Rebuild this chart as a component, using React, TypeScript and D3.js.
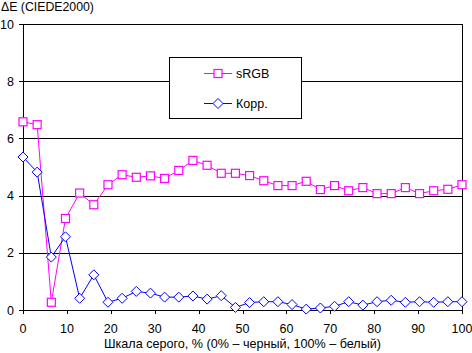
import React from 'react'
import * as d3 from 'd3'

// grey level, % (32 steps from black to white)
const grayLevels: number[] = d3.range(32).map(i => (i * 100) / 31)

const srgbValues: number[] = [
  6.58, 6.48, 0.27, 3.2, 4.09, 3.68, 4.38, 4.73, 4.64, 4.69, 4.6, 4.88, 5.23, 5.06, 4.78, 4.78,
  4.7, 4.52, 4.35, 4.35, 4.5, 4.21, 4.35, 4.17, 4.28, 4.07, 4.07, 4.28, 4.07, 4.17, 4.22, 4.38,
]

const korrValues: number[] = [
  5.35, 4.82, 1.85, 2.56, 0.41, 1.23, 0.27, 0.41, 0.65, 0.59, 0.45, 0.45, 0.49, 0.38, 0.5, 0.09,
  0.26, 0.29, 0.29, 0.19, 0.03, 0.07, 0.13, 0.29, 0.17, 0.29, 0.34, 0.27, 0.29, 0.27, 0.29, 0.29,
]

const xTicks: number[] = [0, 10, 20, 30, 40, 50, 60, 70, 80, 90, 100]
const yTicks: number[] = [0, 2, 4, 6, 8, 10]

const seriesNames = ['sRGB', 'Корр.']
const seriesColors = ['#ff00ff', '#0000ff']

const W = 472
const H = 353
const margin = { top: 24, right: 10, bottom: 43, left: 23 }
const font = '"Liberation Sans", Arial, sans-serif'

const App = () => {
  const x = d3.scaleLinear().domain([0, 100]).range([margin.left, W - margin.right])
  const y = d3.scaleLinear().domain([0, 10]).range([H - margin.bottom, margin.top])

  const line = d3.line<number>()
    .x((d, i) => x(grayLevels[i]))
    .y(d => y(d))

  const square = (cx: number, cy: number, color: string, key: any) => (
    <rect key={key} x={cx - 4} y={cy - 4} width={8} height={8} fill="#fff" stroke={color} strokeWidth={1.2} />
  )
  const diamond = (cx: number, cy: number, color: string, key: any) => (
    <path key={key} d={`M${cx},${cy - 5}L${cx + 5},${cy}L${cx},${cy + 5}L${cx - 5},${cy}Z`} fill="#fff" stroke={color} strokeWidth={1} />
  )

  const [x0, x1] = x.range()
  const [yb, yt] = y.range()

  const lx = 169.5, ly = 57.5, lw = 132, lh = 61

  return (
    <svg width={W} height={H} style={{ position: 'absolute', left: 0, top: 0, background: '#fff' }} fontFamily={font}>
      <rect width={W} height={H} fill="#fff" />
      <text x={1} y={11} fontSize={12.3}>ΔE (CIEDE2000)</text>

      {/* grid */}
      {yTicks.filter(t => t > 0).map(t => (
        <line key={t} x1={x0} x2={x1} y1={Math.round(y(t)) + 0.5} y2={Math.round(y(t)) + 0.5} stroke="#000" />
      ))}
      {/* axes */}
      <line x1={x0 + 0.5} x2={x0 + 0.5} y1={yt} y2={yb} stroke="#000" />
      <line x1={x1 + 0.5} x2={x1 + 0.5} y1={yt} y2={yb} stroke="#000" />
      <line x1={x0} x2={x1 + 1} y1={Math.round(yb) + 0.5} y2={Math.round(yb) + 0.5} stroke="#000" />
      {yTicks.map(t => (
        <g key={t}>
          <line x1={x0 - 4} x2={x0} y1={Math.round(y(t)) + 0.5} y2={Math.round(y(t)) + 0.5} stroke="#000" />
          <text x={14} y={y(t) + 4.5} fontSize={12.5} textAnchor="end">{t}</text>
        </g>
      ))}
      {xTicks.map(t => (
        <g key={t}>
          <line x1={Math.round(x(t)) + 0.5} x2={Math.round(x(t)) + 0.5} y1={yb} y2={yb + 4} stroke="#000" />
          <text x={x(t)} y={333} fontSize={12.5} textAnchor="middle">{t}</text>
        </g>
      ))}
      <text x={(x0 + x1) / 2} y={348} fontSize={12.6} textAnchor="middle">
        Шкала серого, % (0% – черный, 100% – белый)
      </text>

      {/* series */}
      <path d={line(srgbValues) || ''} fill="none" stroke={seriesColors[0]} strokeWidth={1} />
      <path d={line(korrValues) || ''} fill="none" stroke={seriesColors[1]} strokeWidth={1} />
      {srgbValues.map((v, i) => square(x(grayLevels[i]), y(v), seriesColors[0], i))}
      {korrValues.map((v, i) => diamond(x(grayLevels[i]), y(v), seriesColors[1], i))}

      {/* legend */}
      <rect x={lx} y={ly} width={lw} height={lh} fill="#fff" stroke="#000" />
      <line x1={204} x2={232} y1={73.5} y2={73.5} stroke={seriesColors[0]} />
      {square(218, 73.5, seriesColors[0], 'ls')}
      <text x={236} y={78} fontSize={12.5}>{seriesNames[0]}</text>
      <line x1={204} x2={232} y1={103.5} y2={103.5} stroke={seriesColors[1]} />
      {diamond(218, 103.5, seriesColors[1], 'lk')}
      <text x={236} y={108} fontSize={12.5}>{seriesNames[1]}</text>
    </svg>
  )
}

export default App
